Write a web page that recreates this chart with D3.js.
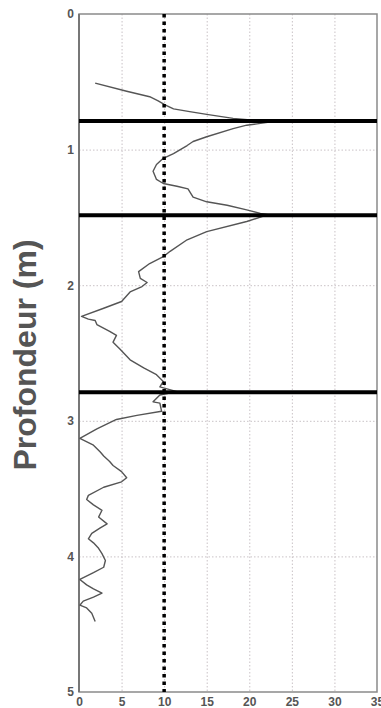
<!DOCTYPE html>
<html>
<head>
<meta charset="utf-8">
<script src="https://cdn.jsdelivr.net/npm/d3@7"></script>
<style>
  body { margin: 0; background: #fff; }
  svg { display: block; }
</style>
</head>
<body>
<div class="chart"></div>
<script>

// values
var depths = [0.51, 0.57, 0.61, 0.64, 0.67, 0.70, 0.72, 0.74, 0.77, 0.785, 0.79, 0.81, 0.82, 0.845, 0.905, 0.94, 0.97,
    1.03, 1.064, 1.11, 1.16, 1.22, 1.25, 1.27, 1.29, 1.31, 1.35, 1.385, 1.41, 1.445, 1.47, 1.48, 1.53, 1.605, 1.665,
    1.75, 1.79, 1.84, 1.90, 1.95, 1.98, 2.01, 2.05, 2.12, 2.17, 2.23, 2.25, 2.26, 2.29, 2.34, 2.37, 2.42, 2.47,
    2.55, 2.61, 2.66, 2.71, 2.75, 2.785, 2.81, 2.86, 2.87, 2.93, 2.96, 2.99, 3.06, 3.13, 3.18, 3.23, 3.26, 3.30,
    3.33, 3.375, 3.42, 3.45, 3.49, 3.55, 3.58, 3.62, 3.66, 3.71, 3.76, 3.79, 3.83, 3.87, 3.90, 3.94, 3.98, 4.03,
    4.08, 4.12, 4.17, 4.21, 4.24, 4.27, 4.30, 4.33, 4.36, 4.38, 4.42, 4.48];
var values = [1.9, 5.6, 8.3, 9.3, 10.1, 11.1, 13, 15, 18.1, 20.9, 23.2, 20.9, 19.7, 18.1, 15, 13.4, 12.7,
    11.1, 9.9, 9.1, 8.7, 9.1, 9.9, 11.5, 12.8, 13.0, 13.4, 15, 17.4, 19.7, 21.3, 22.2, 19.7, 15, 12.7,
    10.7, 9.9, 8.3, 7.0, 7.2, 8.0, 7.4, 6.0, 5.0, 2.9, 0.3, 1.1, 1.9, 2.1, 3.6, 4.4, 4.0, 4.8,
    6.0, 7.6, 9.1, 9.9, 9.5, 11.5, 9.5, 8.7, 9.5, 9.7, 6.8, 4.4, 2.1, 0.1, 1.7, 2.5, 2.9, 3.6,
    4.0, 5.0, 5.6, 5.0, 2.9, 1.1, 0.9, 1.7, 2.7, 2.3, 3.3, 2.5, 1.5, 1.1, 1.7, 2.3, 2.7, 3.1,
    2.9, 1.7, 0.1, 0.9, 1.7, 2.7, 1.7, 0.5, 0.1, 0.9, 1.5, 1.9];
var horizons = [0.79, 1.485, 2.79];
var threshold = 10;
var xTicks = [0, 5, 10, 15, 20, 25, 30, 35];
var yTicks = [0, 1, 2, 3, 4, 5];

var width = 381;
var height = 708;
var margin = { top: 14, right: 4, bottom: 16, left: 79 };
var innerW = width - margin.left - margin.right;
var innerH = height - margin.top - margin.bottom;

var svg = d3.select('.chart')
    .append('svg')
    .attr('width', width)
    .attr('height', height);

var g = svg.append('g')
    .attr('transform', 'translate(' + margin.left + ',' + margin.top + ')');

var scaleX = d3.scaleLinear()
    .domain([0, 35])
    .range([0, innerW]);

var scaleY = d3.scaleLinear()
    .domain([0, 5])
    .range([0, innerH]);

// grid
g.append('g')
    .attr('class', 'grid')
    .call(d3.axisBottom(scaleX).tickValues(xTicks.slice(1, -1)).tickSize(innerH).tickFormat(''))
    .call(s => s.select('.domain').remove())
    .selectAll('line')
    .attr('stroke', '#c9c2c6')
    .attr('stroke-dasharray', '1.5,2');

g.append('g')
    .attr('class', 'grid')
    .call(d3.axisRight(scaleY).tickValues(yTicks.slice(1, -1)).tickSize(innerW).tickFormat(''))
    .call(s => s.select('.domain').remove())
    .selectAll('line')
    .attr('stroke', '#c9c2c6')
    .attr('stroke-dasharray', '1.5,2');

// frame
g.append('rect')
    .attr('x', 0)
    .attr('y', 0)
    .attr('width', innerW)
    .attr('height', innerH)
    .attr('fill', 'none')
    .attr('stroke', '#8a8a8a')
    .attr('stroke-width', 1.5);

g.append('line')
    .attr('x1', 0).attr('x2', 0)
    .attr('y1', 0).attr('y2', innerH)
    .attr('stroke', '#777')
    .attr('stroke-width', 2);

// measured curve
var points = depths.map((d, i) => ({ depth: d, value: values[i] }));

var line = d3.line()
    .x(d => scaleX(d.value))
    .y(d => scaleY(d.depth));

g.append('path')
    .datum(points)
    .attr('d', line)
    .attr('fill', 'none')
    .attr('stroke', '#555')
    .attr('stroke-width', 1.4)
    .attr('stroke-linejoin', 'round');

// threshold
g.append('line')
    .attr('x1', scaleX(threshold)).attr('x2', scaleX(threshold))
    .attr('y1', 0).attr('y2', innerH)
    .attr('stroke', '#000')
    .attr('stroke-width', 3.5)
    .attr('stroke-dasharray', '3.5,4');

// horizons
g.selectAll('.horizon')
    .data(horizons)
    .enter()
    .append('line')
    .attr('class', 'horizon')
    .attr('x1', 0)
    .attr('x2', innerW)
    .attr('y1', d => scaleY(d))
    .attr('y2', d => scaleY(d))
    .attr('stroke', '#000')
    .attr('stroke-width', 4);

// tick labels
var axisX = g.append('g')
    .attr('transform', 'translate(0,' + innerH + ')')
    .call(d3.axisBottom(scaleX).tickValues(xTicks).tickFormat(d3.format('d')).tickSize(0).tickPadding(5));
axisX.select('.domain').remove();

var axisY = g.append('g')
    .call(d3.axisLeft(scaleY).tickValues(yTicks).tickFormat(d3.format('d')).tickSize(0).tickPadding(5));
axisY.select('.domain').remove();

svg.selectAll('.tick text')
    .attr('fill', '#555')
    .style('font-family', 'Liberation Sans, Arial, sans-serif')
    .style('font-weight', 'bold')
    .style('font-size', '12px');

svg.append('text')
    .attr('transform', 'translate(36,' + 355 + ') rotate(-90)')
    .style('text-anchor', 'middle')
    .style('font-family', 'Liberation Sans, Arial, sans-serif')
    .style('font-weight', 'bold')
    .style('font-size', '32px')
    .attr('fill', '#555')
    .text('Profondeur (m)');

</script>
</body>
</html>
